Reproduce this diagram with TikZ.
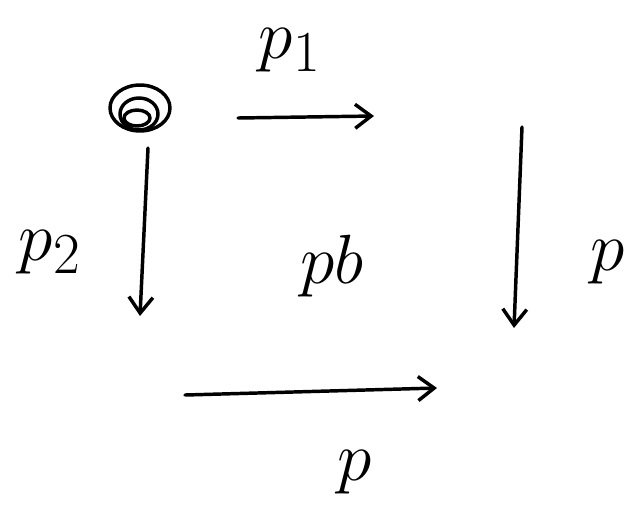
\documentclass[tikz,border=0pt]{standalone}
\usetikzlibrary{arrows.meta}
\begin{document}
\begin{tikzpicture}[x=0.75pt,y=-0.75pt,
  stroke/.style={line width=2.6pt,line cap=round,line join=round},
  arr/.style={stroke,-{Straight Barb[length=12pt,width=18pt,line width=2.6pt]}},
  lbl/.style={inner sep=0pt,font=\fontsize{24.88}{30}\selectfont,scale=2.1}]
\useasboundingbox (0,0) rectangle (641,519);
% top-left object (spiral doodle)
\coordinate (tl) at (139,110);
\draw[stroke] (tl) ++(1,-2) ellipse [x radius=30, y radius=23];
\draw[stroke] (tl) ++(0,4) ellipse [x radius=19, y radius=16];
\draw[stroke] (tl) ++(-2,8) ellipse [x radius=13, y radius=8];
% arrow end points
\coordinate (t1) at (238,118);
\coordinate (t2) at (374,116);
\coordinate (l1) at (148,148);
\coordinate (l2) at (140,316);
\coordinate (r1) at (522,127);
\coordinate (r2) at (514,328);
\coordinate (b1) at (185,395);
\coordinate (b2) at (437,388);
\draw[arr] (t1) -- (t2);
\draw[arr] (l1) -- (l2);
\draw[arr] (r1) -- (r2);
\draw[arr] (b1) -- (b2);
% labels
\node[lbl] (p1) at (290,50) {$p_1$};
\node[lbl] (p2) at (50,252) {$p_2$};
\node[lbl] (pb) at (332,266) {$pb$};
\node[lbl] (pr) at (608,262) {$p$};
\node[lbl] (pbot) at (355,472) {$p$};
\end{tikzpicture}
\end{document}
